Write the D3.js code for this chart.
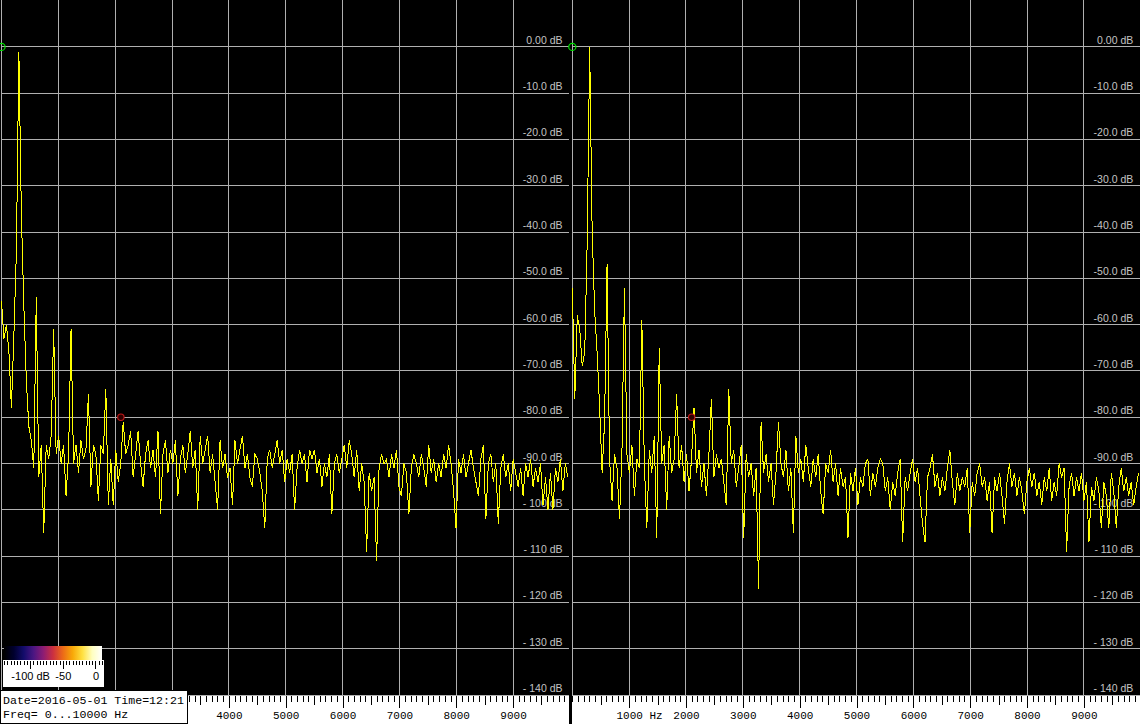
<!DOCTYPE html>
<html><head><meta charset="utf-8">
<script src="https://cdn.jsdelivr.net/npm/d3@7"></script>
<style>html,body{margin:0;padding:0;background:#000;overflow:hidden}svg{display:block}</style>
</head><body>
<svg id="c" width="1140" height="724"></svg>
<script>
// ---- data ----
const binHz = 43.7;               // spacing of the spectrum bins (Hz)
const leftDb = [
-55,-63,-60,-66,-78,-62,-44,-1,-36,-56,
-72,-82,-85,-91,-54,-93,-86,-105,-86,-89,
-84,-61,-88,-84,-90,-86,-97,-88,-61,-90,
-86,-92,-85,-89,-87,-75,-95,-86,-88,-98,
-86,-88,-74,-99,-89,-99,-87,-94,-90,-81,
-88,-86,-83,-93,-88,-83,-90,-95,-88,-85,
-91,-87,-93,-83,-101,-88,-85,-92,-87,-90,
-85,-97,-89,-86,-92,-88,-83,-91,-87,-100,
-84,-90,-87,-84,-92,-88,-94,-100,-85,-91,
-88,-93,-91,-99,-85,-90,-87,-84,-91,-88,
-93,-95,-88,-89,-92,-96,-104,-89,-87,-91,
-88,-85,-90,-87,-94,-89,-92,-88,-100,-91,
-87,-90,-88,-94,-87,-89,-87,-92,-89,-95,
-90,-93,-88,-101,-90,-88,-92,-89,-86,-91,
-85,-88,-93,-87,-96,-90,-94,-109,-92,-96,
-93,-111,-91,-88,-90,-89,-93,-88,-91,-87,
-95,-97,-90,-92,-101,-91,-88,-90,-93,-88,
-91,-95,-86,-92,-89,-94,-90,-93,-88,-91,
-86,-90,-96,-104,-89,-92,-88,-93,-90,-87,
-91,-94,-97,-89,-86,-102,-90,-88,-94,-90,
-103,-91,-88,-93,-90,-96,-89,-92,-95,-91,
-97,-90,-93,-89,-95,-91,-94,-90,-99,-93,
-100,-92,-100,-91,-94,-89,-96,-90,-93
];
const rightDb = [
-52,-76,-58,-61,-69,-66,-42,0,-40,-57,
-66,-78,-92,-81,-47,-89,-98,-88,-91,-102,
-87,-52,-88,-92,-86,-97,-89,-91,-59,-90,
-104,-87,-92,-84,-106,-65,-90,-86,-100,-84,
-92,-89,-75,-91,-86,-94,-88,-96,-89,-78,
-92,-87,-95,-90,-97,-88,-76,-93,-88,-91,
-89,-94,-99,-74,-90,-87,-95,-91,-86,-106,
-88,-93,-90,-97,-91,-117,-81,-92,-88,-94,
-90,-99,-92,-81,-90,-93,-87,-96,-91,-105,
-84,-92,-89,-94,-86,-91,-95,-89,-93,-88,
-96,-101,-90,-92,-87,-94,-90,-97,-91,-95,
-93,-106,-92,-96,-91,-99,-93,-95,-90,-89,
-97,-92,-95,-91,-89,-90,-96,-93,-100,-94,
-97,-92,-89,-107,-93,-96,-92,-89,-94,-91,
-97,-103,-107,-93,-91,-88,-95,-92,-97,-93,
-96,-91,-87,-94,-99,-92,-96,-93,-95,-91,
-105,-94,-97,-92,-90,-95,-93,-98,-94,-105,
-93,-96,-92,-97,-103,-94,-90,-95,-92,-97,
-93,-96,-101,-94,-91,-95,-92,-97,-94,-99,
-93,-96,-91,-98,-94,-97,-90,-93,-91,-109,
-95,-92,-97,-93,-96,-92,-98,-94,-107,-95,
-98,-93,-96,-104,-94,-97,-104,-92,-96,-104,
-95,-91,-96,-93,-97,-94,-99,-95,-92
];
const dbGrid = [0,-10,-20,-30,-40,-50,-60,-70,-80,-90,-100,-110,-120,-130,-140];
const freqGrid = [0,1000,2000,3000,4000,5000,6000,7000,8000,9000];
const freqLabelsLeft = [4000,5000,6000,7000,8000,9000];   // 1000..3000 sit under the info box
const freqLabelsRight = [1000,2000,3000,4000,5000,6000,7000,8000,9000];
const refMarker = {hz: 0, db: 0};
const cursorMarker = {hz: 2100, db: -80};
const colorbarTicks = [-100, -50, 0];
const colorbarLabels = ["-100 dB", "-50", "0"];
const dateLine = "Date=2016-05-01 Time=12:21";
const freqLine = "Freq= 0...10000 Hz";
const paletteStops = ["#000000","#00002e","#120c6a","#4a1682","#8c1c74","#cc3040","#ec6a18","#f8a808","#ffe040","#ffffc0","#ffffff"];

// ---- layout ----
const W = 1140, H = 724;
const plotTop = 0.6, plotBottom = 695;
const panelWidth = 568.4;
const panelsX0 = [1.5, 572.3];
const gridColor = "#b0b0b0";

const svg = d3.select("#c");
svg.append("rect").attr("width", W).attr("height", H).attr("fill", "#000");

const y = d3.scaleLinear().domain([10, -140]).range([plotTop, plotBottom]);
const dbFmt = v => v === 0 ? "0.00 dB" : (Math.abs(v) >= 100 ? "- " + Math.abs(v) + " dB" : v.toFixed(1) + " dB");

const panelData = [leftDb, rightDb];
const scales = [];

panelsX0.forEach((x0, pi) => {
  const x = d3.scaleLinear().domain([0, 10000]).range([x0, x0 + panelWidth]);
  scales.push(x);
  const g = svg.append("g");
  const xEnd = Math.min(x0 + panelWidth - 0.5, W);

  g.selectAll("line.vg").data(freqGrid).join("line")
    .attr("x1", d => Math.floor(x(d)) + 0.5).attr("x2", d => Math.floor(x(d)) + 0.5)
    .attr("y1", 0).attr("y2", plotBottom)
    .attr("stroke", gridColor).attr("stroke-width", 1).attr("shape-rendering", "crispEdges");

  g.selectAll("line.hg").data(dbGrid).join("line")
    .attr("x1", Math.floor(x0)).attr("x2", xEnd)
    .attr("y1", d => Math.floor(y(d)) + 0.5).attr("y2", d => Math.floor(y(d)) + 0.5)
    .attr("stroke", gridColor).attr("stroke-width", 1).attr("shape-rendering", "crispEdges");

  g.selectAll("text.db").data(dbGrid).join("text")
    .attr("x", x0 + 561).attr("y", d => Math.min(y(d) - 3, 692.5))
    .attr("text-anchor", "end")
    .attr("font-family", "'Liberation Sans', Arial, sans-serif")
    .attr("font-size", "10.5px").attr("fill", "#c4c4c4")
    .text(dbFmt);

  const data = panelData[pi].map((v, i) => ({hz: i * binHz, db: v}));
  const line = d3.line().x(d => x(d.hz)).y(d => y(d.db));
  g.append("path").datum(data).attr("d", line)
    .attr("fill", "none").attr("stroke", "#ffff00").attr("stroke-width", 1)
    .attr("shape-rendering", "crispEdges");

  g.append("circle").attr("cx", x(refMarker.hz)).attr("cy", y(refMarker.db)).attr("r", 3.6)
    .attr("fill", "none").attr("stroke", "#00dd00").attr("stroke-width", 1.2);
  g.append("circle").attr("cx", x(cursorMarker.hz)).attr("cy", y(cursorMarker.db)).attr("r", 3.2)
    .attr("fill", "#300000").attr("stroke", "#c01818").attr("stroke-width", 1.1);
});

// ---- frequency axis ----
const axisY = 696;
svg.append("rect").attr("x", 0).attr("y", axisY).attr("width", W).attr("height", H - axisY).attr("fill", "#fff");
scales.forEach((x, pi) => {
  const ga = svg.append("g").attr("transform", `translate(0,${axisY})`);
  const minor = ga.append("g").call(d3.axisBottom(x).tickValues(d3.range(0, 10001, 100)).tickSize(6).tickFormat(""));
  const mid = ga.append("g").call(d3.axisBottom(x).tickValues(d3.range(500, 10001, 1000)).tickSize(9).tickFormat(""));
  const labels = pi === 0 ? freqLabelsLeft : freqLabelsRight;
  const major = ga.append("g").call(d3.axisBottom(x).tickValues(labels).tickSize(12).tickPadding(3).tickFormat(d3.format("d")));
  [minor, mid, major].forEach(a => {
    a.select(".domain").remove();
    a.selectAll(".tick line").attr("stroke", "#000").attr("shape-rendering", "crispEdges");
  });
  major.selectAll(".tick text")
    .attr("font-family", "'Liberation Mono', 'Courier New', monospace")
    .attr("font-size", "11px").attr("fill", "#000");
  if (pi === 1) {
    major.selectAll(".tick text").filter(d => d === 1000)
      .attr("text-anchor", "start").attr("x", -13.2).text("1000 Hz");
  }
});
svg.append("rect").attr("x", 569).attr("y", axisY).attr("width", 3).attr("height", H - axisY).attr("fill", "#000");

// ---- colour bar ----
const cb = d3.scaleLinear().domain([-140, 10]).range([4, 102]);
const defs = svg.append("defs");
const grad = defs.append("linearGradient").attr("id", "pal").attr("x1", "0%").attr("x2", "100%");
paletteStops.forEach((c, i) => grad.append("stop").attr("offset", (i / (paletteStops.length - 1) * 100) + "%").attr("stop-color", c));
svg.append("rect").attr("x", 3).attr("y", 660).attr("width", 101).attr("height", 27).attr("fill", "#fff");
svg.append("rect").attr("x", cb(-140)).attr("y", 646).attr("width", cb(10) - cb(-140)).attr("height", 14).attr("fill", "url(#pal)");
const gcb = svg.append("g").attr("transform", "translate(0,661)");
const cbMinor = gcb.append("g").call(d3.axisBottom(cb).tickValues(d3.range(-140, 11, 5)).tickSize(4).tickFormat(""));
const cbMajor = gcb.append("g").call(d3.axisBottom(cb).tickValues(colorbarTicks).tickSize(8).tickPadding(3).tickFormat((d, i) => colorbarLabels[i]));
[cbMinor, cbMajor].forEach(a => {
  a.select(".domain").remove();
  a.selectAll(".tick line").attr("stroke", "#000").attr("shape-rendering", "crispEdges");
});
cbMajor.selectAll(".tick text").attr("font-family", "'Liberation Sans', Arial, sans-serif").attr("font-size", "11px").attr("fill", "#000");

// ---- info box ----
svg.append("rect").attr("x", 0.5).attr("y", 690.5).attr("width", 187).attr("height", 33)
  .attr("fill", "#fff").attr("stroke", "#000").attr("shape-rendering", "crispEdges");
svg.append("text").attr("x", 3).attr("y", 703.5).text(dateLine)
  .attr("font-family", "'Liberation Mono', 'Courier New', monospace").attr("font-size", "11.6px").attr("fill", "#000");
svg.append("text").attr("x", 3).attr("y", 717.5).text(freqLine)
  .attr("font-family", "'Liberation Mono', 'Courier New', monospace").attr("font-size", "11.6px").attr("fill", "#000");
</script>
</body></html>
